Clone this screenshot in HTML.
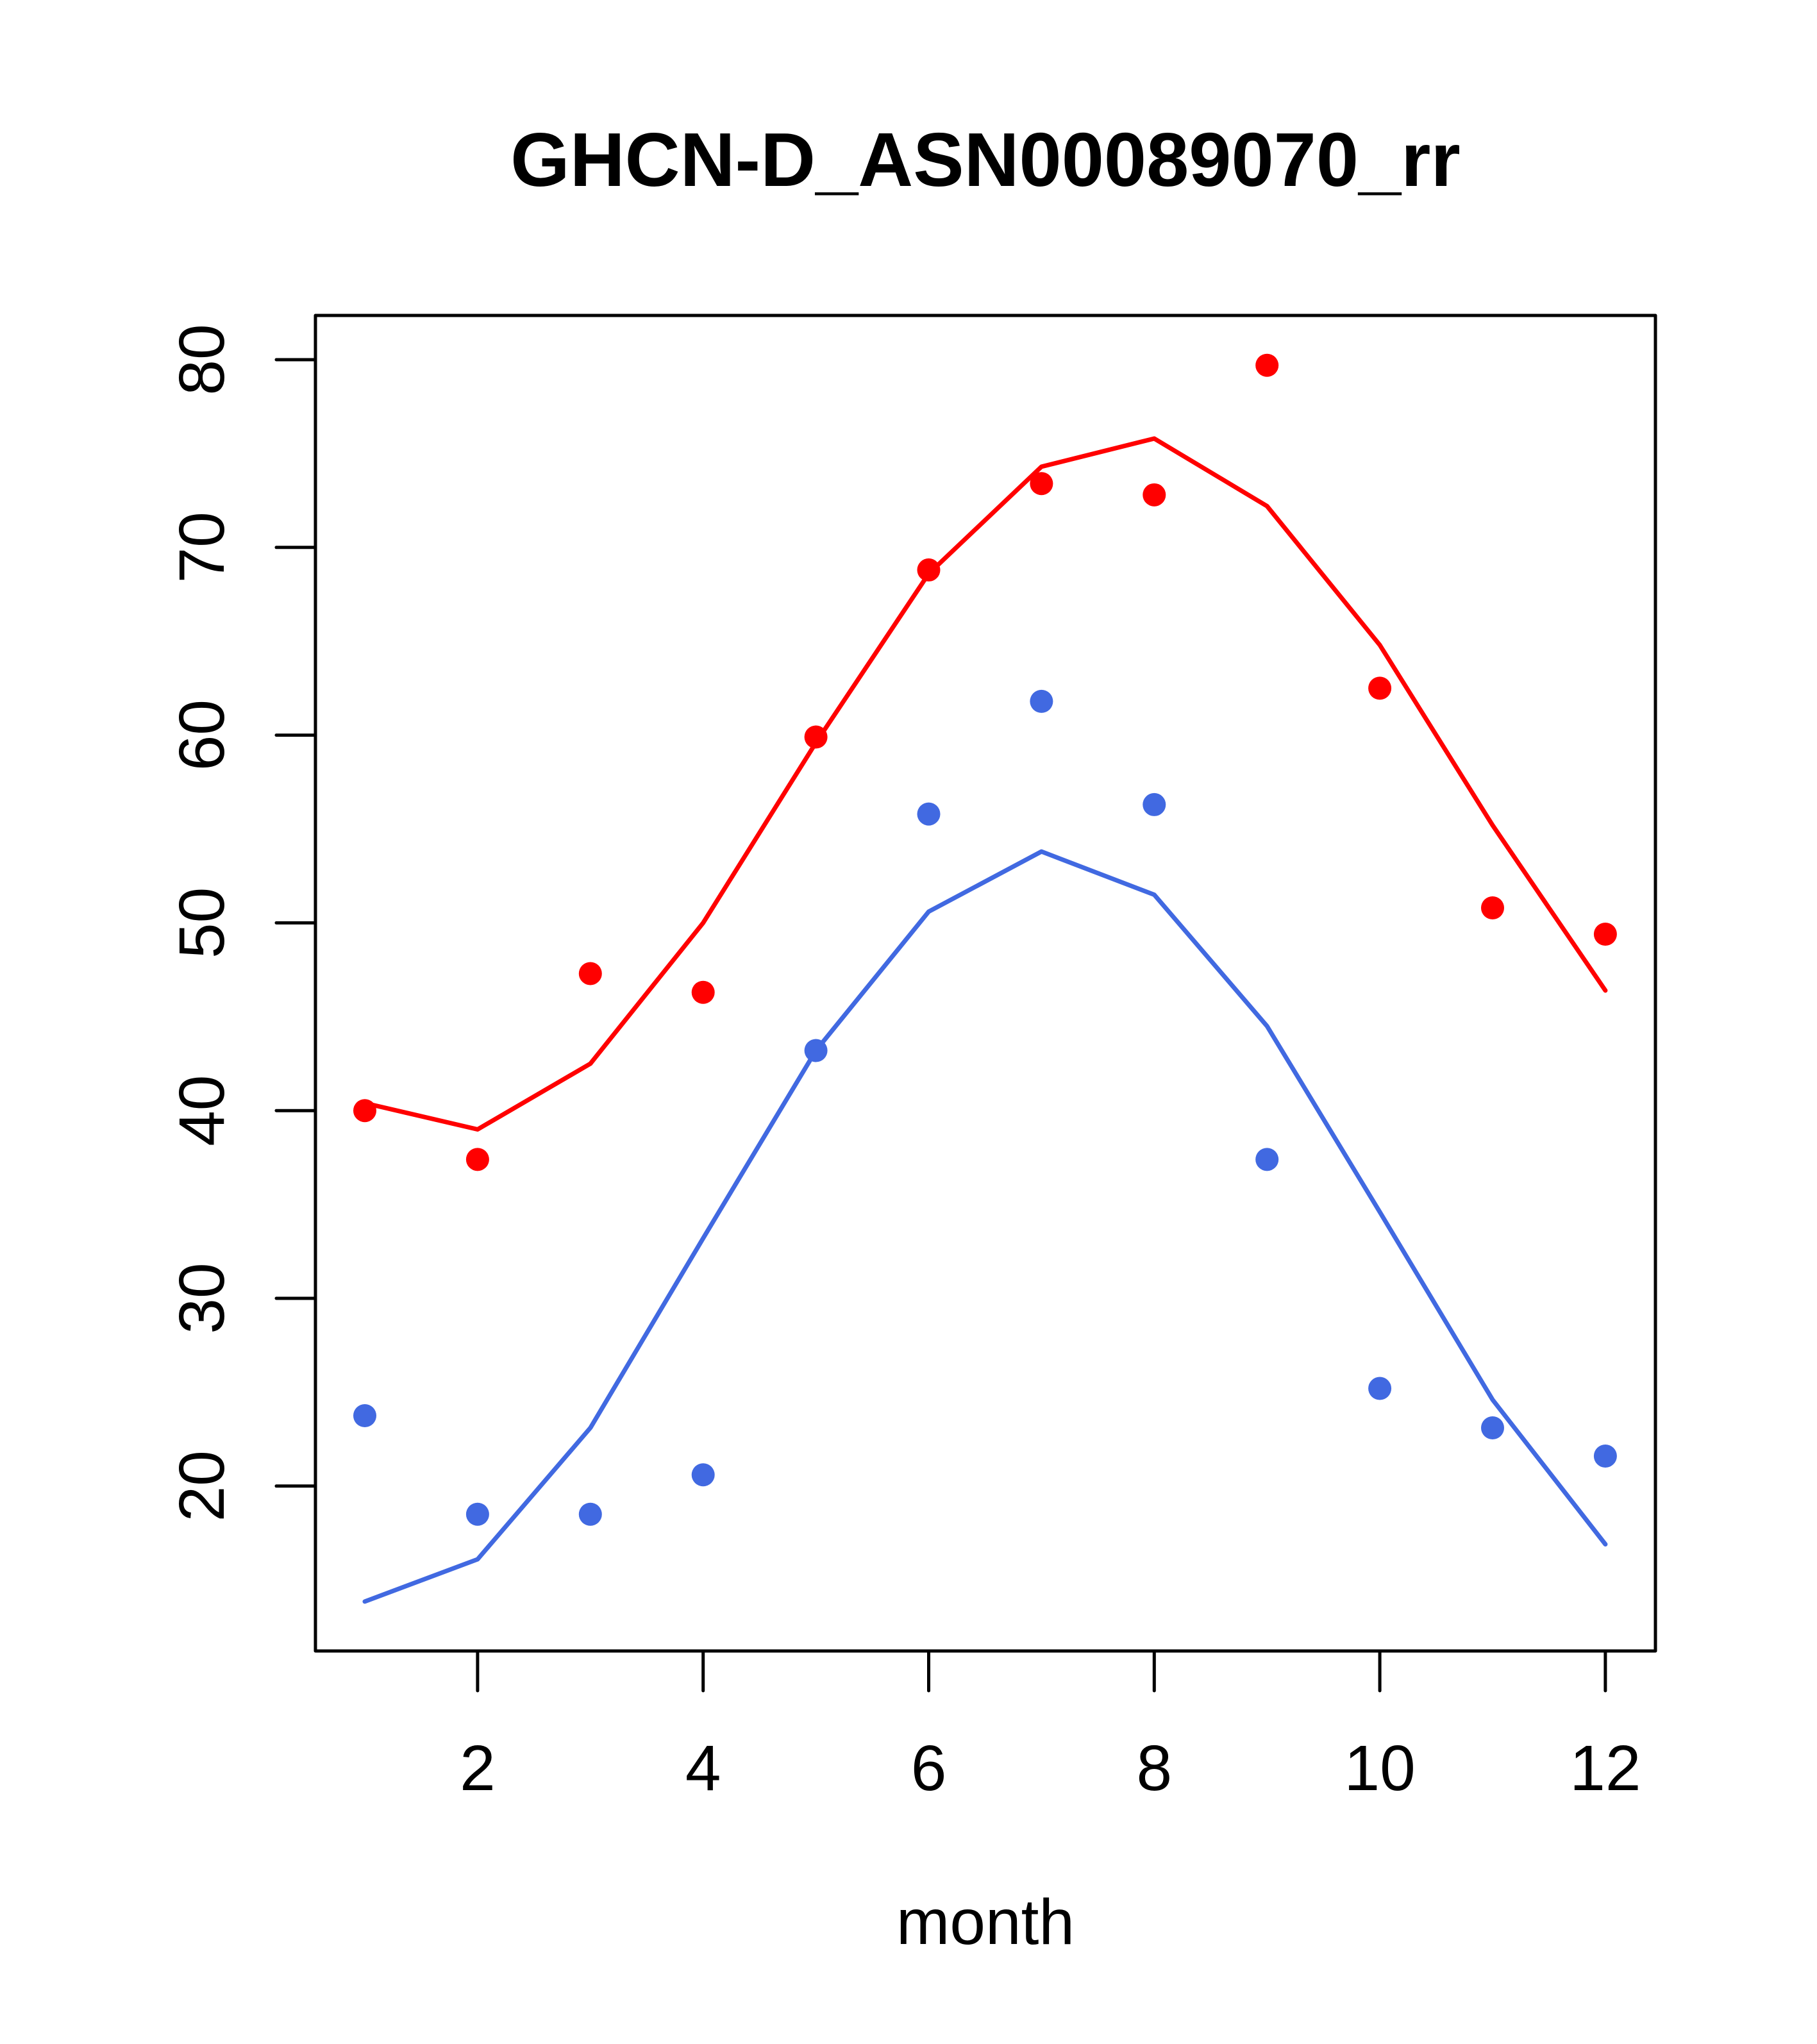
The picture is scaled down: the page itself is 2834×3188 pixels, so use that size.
<!DOCTYPE html>
<html><head><meta charset="utf-8"><style>body{margin:0;background:#fff}svg{display:block}</style></head>
<body>
<svg id="chart" width="2834" height="3188" viewBox="0 0 2834 3188" xmlns="http://www.w3.org/2000/svg" font-family="Liberation Sans, sans-serif">
<rect width="2834" height="3188" fill="#fff"/>
<text x="1537" y="290" font-size="119" font-weight="bold" text-anchor="middle">GHCN-D_ASN00089070_rr</text>
<rect x="492" y="492" width="2090" height="2083" fill="none" stroke="#000" stroke-width="5" stroke-linejoin="round"/>
<text x="1537" y="3032" font-size="100" text-anchor="middle">month</text>
<g id="axes"></g><g id="series"></g>
</svg>
<script>
const months=[1,2,3,4,5,6,7,8,9,10,11,12];
const redPoints=[40.0,37.4,47.3,46.3,59.9,68.8,73.4,72.8,79.7,62.5,50.8,49.4];
const redLine=[40.4,39.0,42.5,50.0,59.6,68.6,74.3,75.8,72.2,64.8,55.2,46.4];
const bluePoints=[23.75,18.5,18.5,20.6,43.2,55.8,61.8,56.3,37.4,25.2,23.1,21.6];
const blueLine=[13.85,16.1,23.1,33.2,43.2,50.6,53.8,51.5,44.5,34.6,24.6,16.9];
const xTicks=[2,4,6,8,10,12];
const yTicks=[20,30,40,50,60,70,80];
function xs(m){return 569+(m-1)*175.9;}
function ys(v){return 561+(80-v)*29.28;}
const NS="http://www.w3.org/2000/svg";
const axes=document.getElementById('axes'),ser=document.getElementById('series');
function mk(tag,attrs,parent){const e=document.createElementNS(NS,tag);for(const k in attrs)e.setAttribute(k,attrs[k]);parent.appendChild(e);return e;}
const bottom=2575,left=492;
xTicks.forEach(t=>{
 const l=mk('line',{x1:xs(t),x2:xs(t),y1:bottom,y2:bottom+62,stroke:'#000','stroke-width':5,'stroke-linecap':'round'},axes);
 
 
 const tx=mk('text',{x:xs(t),y:2792,'font-size':100,'text-anchor':'middle'},axes);tx.textContent=t;
 
 
});
yTicks.forEach(t=>{
 const l=mk('line',{x1:left-61,x2:left,y1:ys(t),y2:ys(t),stroke:'#000','stroke-width':5,'stroke-linecap':'round'},axes);
 
 
 const tx=mk('text',{x:0,y:0,'font-size':100,'text-anchor':'middle',transform:`translate(349,${ys(t)}) rotate(-90)`},axes);tx.textContent=t;
 
 
});
function line(vals,color,name){
 const p=mk('polyline',{points:vals.map((v,i)=>xs(months[i])+','+ys(v)).join(' '),fill:'none',stroke:color,'stroke-width':7,'stroke-linecap':'round','stroke-linejoin':'round'},ser);
 
 
}
function pts(vals,color,name){
 vals.forEach((v,i)=>{const c=mk('circle',{cx:xs(months[i]),cy:ys(v),r:18,fill:color},ser);
 
 });
}
line(redLine,'#ff0000','red-line');
line(blueLine,'#4169e1','blue-line');
pts(redPoints,'#ff0000','red-point');
pts(bluePoints,'#4169e1','blue-point');
</script>
</body></html>
